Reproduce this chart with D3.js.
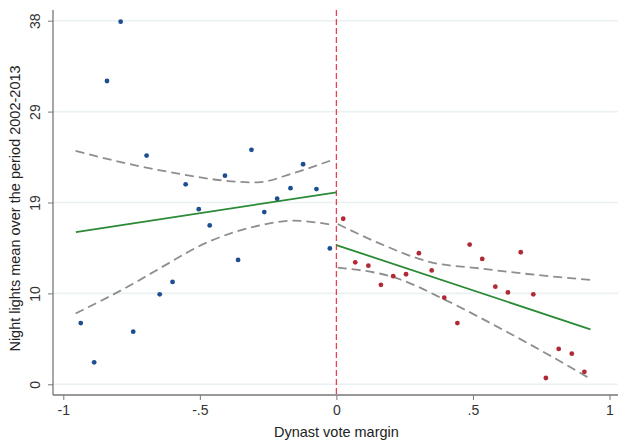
<!DOCTYPE html>
<html>
<head>
<meta charset="utf-8">
<script src="https://cdn.jsdelivr.net/npm/d3@7"></script>
<style>
  body { margin: 0; background: #fff; }
  svg { display: block; font-family: "Liberation Sans", Arial, sans-serif; }
</style>
</head>
<body>
<svg id="chart" width="618" height="443"></svg>
<script>
// binned means, left of cutoff (dynast lost)
const leftX = [-0.936, -0.887, -0.840, -0.790, -0.744, -0.695, -0.647, -0.600, -0.552, -0.504,
               -0.464, -0.408, -0.360, -0.311, -0.264, -0.217, -0.168, -0.122, -0.073, -0.024]
const leftY = [6.4, 2.3, 31.7, 37.9, 5.5, 23.9, 9.4, 10.7, 20.9, 18.3,
               16.6, 21.8, 13.0, 24.5, 18.0, 19.4, 20.5, 23.0, 20.4, 14.2]

// binned means, right of cutoff (dynast won)
const rightX = [0.025, 0.069, 0.117, 0.163, 0.208, 0.255, 0.302, 0.349, 0.395, 0.443,
                0.488, 0.534, 0.582, 0.628, 0.675, 0.721, 0.767, 0.814, 0.862, 0.908]
const rightY = [17.3, 12.75, 12.4, 10.4, 11.3, 11.5, 13.7, 11.9, 9.05, 6.4,
                14.6, 13.1, 10.2, 9.6, 13.8, 9.4, 0.66, 3.7, 3.2, 1.3]

// linear fits
const fitLeftX = [-0.954, 0]
const fitLeftY = [15.9, 20.06]
const fitRightX = [0, 0.93]
const fitRightY = [14.55, 5.75]

// confidence bands
const ciLeftUpX = [-0.955, -0.77, -0.585, -0.43, -0.29, -0.16, -0.01]
const ciLeftUpY = [24.4, 23.1, 22.05, 21.35, 21.1, 22.05, 23.5]
const ciLeftLoX = [-0.955, -0.745, -0.66, -0.46, -0.28, -0.16, -0.01]
const ciLeftLoY = [7.4, 10.5, 11.9, 15.0, 16.6, 17.1, 16.65]
const ciRightUpX = [0.005, 0.16, 0.34, 0.53, 0.71, 0.935]
const ciRightUpY = [16.75, 14.7, 12.8, 12.1, 11.5, 10.9]
const ciRightLoX = [0.005, 0.22, 0.40, 0.59, 0.77, 0.92]
const ciRightLoY = [12.2, 11.1, 8.8, 6.0, 3.2, 0.73]

// axis ticks (y labels are rounded by the original, as in stata)
const xTicks = [-1, -0.5, 0, 0.5, 1]
const xTickLabels = ["-1", "-.5", "0", ".5", "1"]
const yTicks = [0, 9.5, 19, 28.5, 38]
const yTickLabels = ["0", "10", "19", "29", "38"]

const svg = d3.select("#chart")
const W = +svg.attr("width")

const plotLeft = 53, plotBottom = 395, plotTop = 10

const x = d3.scaleLinear().domain([-1, 1]).range([63.3, 609.5])
const y = d3.scaleLinear().domain([0, 38]).range([384.3, 20.7])

const zip = (xs, ys) => xs.map((v, i) => [v, ys[i]])

//gridlines
svg.append("g")
  .selectAll("line")
  .data(yTicks)
  .enter().append("line")
    .attr("x1", plotLeft).attr("x2", W)
    .attr("y1", d => y(d)).attr("y2", d => y(d))
    .attr("stroke", "#eaf1f4")
    .attr("stroke-width", 1.6)

//axes
const xAxis = svg.append("g")
  .attr("transform", `translate(0,${plotBottom})`)
  .call(d3.axisBottom(x).tickValues(xTicks).tickSize(5)
        .tickFormat((d, i) => xTickLabels[i]))
xAxis.select(".domain").remove()

const yAxis = svg.append("g")
  .attr("transform", `translate(${plotLeft},0)`)
  .call(d3.axisLeft(y).tickValues(yTicks).tickSize(5)
        .tickFormat((d, i) => yTickLabels[i]))
yAxis.select(".domain").remove()

svg.selectAll(".tick line").attr("stroke", "#777")
xAxis.selectAll(".tick text")
  .attr("font-size", 14).attr("fill", "#333").attr("dy", "0.72em").attr("y", 10)
yAxis.selectAll(".tick text")
  .attr("font-size", 14).attr("fill", "#333")
  .attr("text-anchor", "middle")
  .attr("x", 0).attr("dy", 0)
  .attr("transform", "translate(-13,0) rotate(-90)")

svg.append("line")
  .attr("x1", plotLeft).attr("x2", plotLeft)
  .attr("y1", plotTop).attr("y2", plotBottom)
  .attr("stroke", "#777").attr("stroke-width", 1.3)
svg.append("line")
  .attr("x1", plotLeft).attr("x2", W)
  .attr("y1", plotBottom).attr("y2", plotBottom)
  .attr("stroke", "#777").attr("stroke-width", 1.3)

//titles
svg.append("text")
  .attr("transform", `translate(20,${(plotTop + plotBottom) / 2 + 6}) rotate(-90)`)
  .attr("text-anchor", "middle")
  .attr("font-size", 14.5).attr("fill", "#222")
  .text("Night lights mean over the period 2002-2013")
svg.append("text")
  .attr("x", x(0)).attr("y", 437)
  .attr("text-anchor", "middle")
  .attr("font-size", 14.5).attr("fill", "#222")
  .text("Dynast vote margin")

//cutoff line
svg.append("line")
  .attr("x1", x(0)).attr("x2", x(0))
  .attr("y1", plotTop).attr("y2", plotBottom)
  .attr("stroke", "#e8424f").attr("stroke-width", 1.3)
  .attr("stroke-dasharray", "6,3")

const line = d3.line().x(d => x(d[0])).y(d => y(d[1]))
const curve = d3.line().x(d => x(d[0])).y(d => y(d[1])).curve(d3.curveMonotoneX)

//confidence bands
const bands = [zip(ciLeftUpX, ciLeftUpY), zip(ciLeftLoX, ciLeftLoY),
               zip(ciRightUpX, ciRightUpY), zip(ciRightLoX, ciRightLoY)]
svg.append("g")
  .selectAll("path")
  .data(bands)
  .enter().append("path")
    .attr("d", curve)
    .attr("fill", "none")
    .attr("stroke", "#8e8e8e")
    .attr("stroke-width", 1.8)
    .attr("stroke-dasharray", "9,5")

//fitted lines
svg.append("g")
  .selectAll("path")
  .data([zip(fitLeftX, fitLeftY), zip(fitRightX, fitRightY)])
  .enter().append("path")
    .attr("d", line)
    .attr("fill", "none")
    .attr("stroke", "#2a8a35")
    .attr("stroke-width", 1.8)

//points
svg.append("g")
  .selectAll("circle")
  .data(zip(leftX, leftY))
  .enter().append("circle")
    .attr("cx", d => x(d[0])).attr("cy", d => y(d[1]))
    .attr("r", 2.4)
    .attr("fill", "#1d4f8f")

svg.append("g")
  .selectAll("circle")
  .data(zip(rightX, rightY))
  .enter().append("circle")
    .attr("cx", d => x(d[0])).attr("cy", d => y(d[1]))
    .attr("r", 2.4)
    .attr("fill", "#b02a36")
</script>
</body>
</html>
